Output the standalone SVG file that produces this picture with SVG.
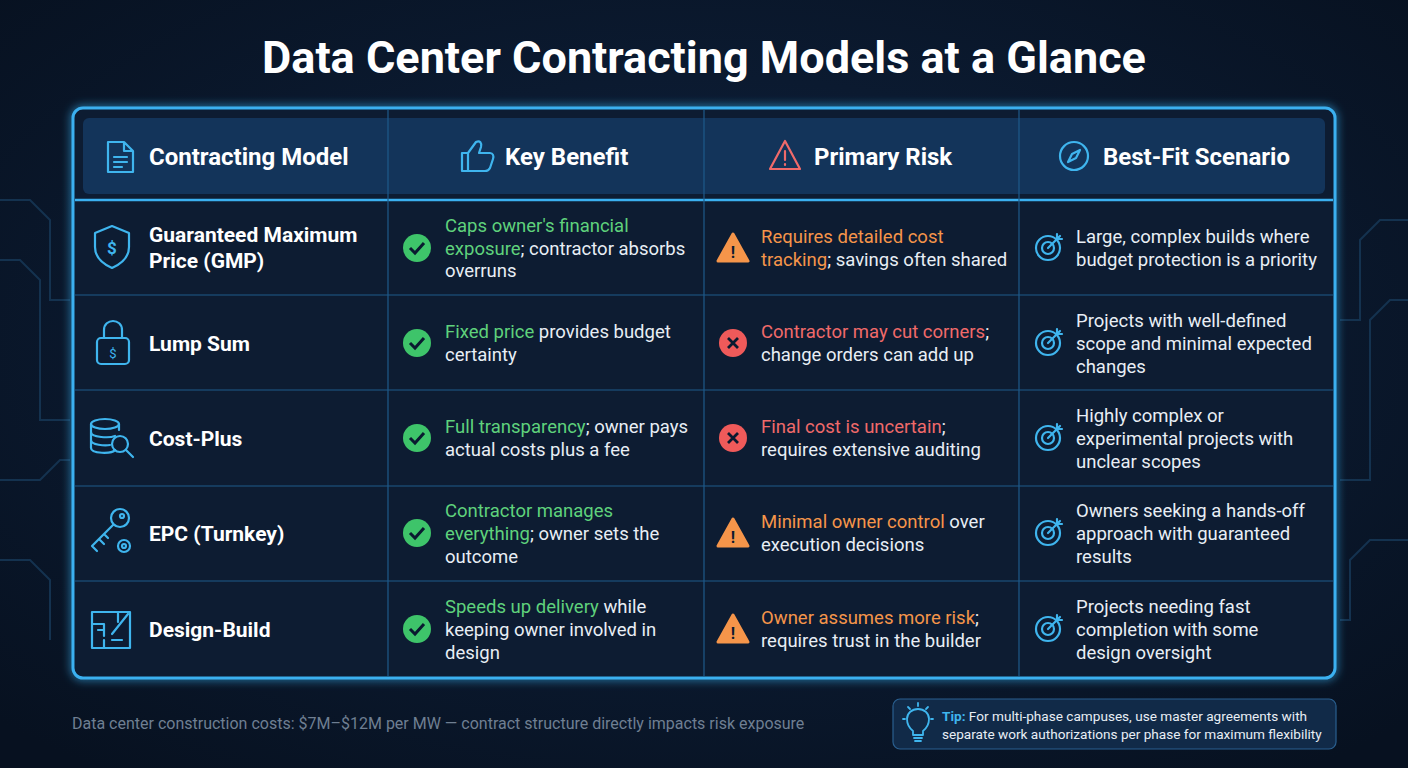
<svg xmlns="http://www.w3.org/2000/svg" width="1408" height="768" viewBox="0 0 1408 768">
<defs>
<radialGradient id="bg" cx="50%" cy="45%" r="70%"><stop offset="0" stop-color="#0f2340"/><stop offset="1" stop-color="#071120"/></radialGradient>
<filter id="glow" x="-5%" y="-5%" width="110%" height="110%"><feGaussianBlur stdDeviation="5" result="b"/><feMerge><feMergeNode in="b"/><feMergeNode in="SourceGraphic"/></feMerge></filter>
<style>
text{font-family:Roboto,"Liberation Sans",sans-serif}
.h{font-size:24px;font-weight:700;fill:#fff}
.m{font-size:21px;font-weight:700;fill:#fff}
.t{font-size:18.5px;fill:#e8eef5}
.g{fill:#5fd27c}.o{fill:#f5954a}.r{fill:#f06a6a}
.ic{fill:none;stroke:#3fb5ee;stroke-width:2.2;stroke-linecap:round;stroke-linejoin:round}
.grid{stroke:#1e5a8a;stroke-width:1.2}
.trace{fill:none;stroke:#14324f;stroke-width:2}
</style>
</defs>
<rect width="1408" height="768" fill="url(#bg)"/>
<g class="trace">
<path d="M0 200 H30 L50 220 V300 H70"/><path d="M0 260 H20 L40 280 V420 H70"/><path d="M0 480 H40 L60 460 H70"/><path d="M0 560 H30 L50 580 V640"/>
<path d="M1408 220 H1380 L1360 240 V320 H1340"/><path d="M1408 300 H1390 L1370 320 V480 H1340"/><path d="M1408 540 H1370 L1350 560 V620 H1340"/>
</g>
<text x="704" y="73" text-anchor="middle" style="font-size:45px;font-weight:700;fill:#fff">Data Center Contracting Models at a Glance</text>
<rect x="73" y="108" width="1262" height="570" rx="10" fill="#0a1a30" stroke="#3bb0f0" stroke-width="3" filter="url(#glow)"/>
<rect x="83" y="118" width="1242" height="76" rx="6" fill="#13345a"/>
<g class="grid">
<line x1="75" y1="200" x2="1333" y2="200" stroke="#3bb0f0" stroke-width="2.5"/>
<line x1="75" y1="295" x2="1333" y2="295"/><line x1="75" y1="390" x2="1333" y2="390"/><line x1="75" y1="486" x2="1333" y2="486"/><line x1="75" y1="581" x2="1333" y2="581"/>
<line x1="388" y1="110" x2="388" y2="676"/><line x1="704" y1="110" x2="704" y2="676"/><line x1="1019" y1="110" x2="1019" y2="676"/>
</g>
<g id="header">
<g class="ic"><path d="M108 142 H124 L133 151 V172 H108 Z M124 142 V151 H133 M114 157 H127 M114 162 H127 M114 167 H122"/></g>
<text class="h" x="149" y="165">Contracting Model</text>
<g class="ic"><path d="M462 153 H468 V171 H462 Z M468 153 L476 142 C480 140 482 143 481 147 L479 153 H490 C493 153 494 156 493 159 L490 168 C489 170 487 171 485 171 H468"/></g>
<text class="h" x="505" y="165">Key Benefit</text>
<g class="ic" style="stroke:#f06a6a"><path d="M785 141 L800 169 H770 Z M785 151 V160 M785 164 V165"/></g>
<text class="h" x="814" y="165">Primary Risk</text>
<g class="ic"><circle cx="1074" cy="156" r="14"/><path d="M1080 150 L1076 158 L1068 162 L1072 154 Z"/></g>
<text class="h" x="1103" y="165">Best-Fit Scenario</text>
</g>
<g id="row1">
<g class="ic"><path d="M112 226 L129 233 V247 C129 257 121 264 112 268 C103 264 95 257 95 247 V233 Z"/><text x="112" y="254" text-anchor="middle" style="font-size:17px;fill:#3fb5ee;font-weight:700;stroke:none">$</text></g>
<text class="m" x="149" y="242">Guaranteed Maximum</text><text class="m" x="149" y="268">Price (GMP)</text>
<circle cx="417" cy="248" r="14" fill="#3ec46a"/><path d="M410 248 L415 253 L424 243" fill="none" stroke="#0a1a30" stroke-width="3"/>
<text class="t" x="445" y="232"><tspan class="g">Caps owner's financial</tspan></text>
<text class="t" x="445" y="255"><tspan class="g">exposure</tspan>; contractor absorbs</text>
<text class="t" x="445" y="277">overruns</text>
<path d="M733 234 L748 261 H718 Z" fill="#f5954a" stroke="#f5954a" stroke-linejoin="round" stroke-width="3"/><text x="733" y="258" text-anchor="middle" style="font-size:16px;font-weight:700;fill:#0a1a30">!</text>
<text class="t" x="761" y="243"><tspan class="o">Requires detailed cost</tspan></text>
<text class="t" x="761" y="266"><tspan class="o">tracking</tspan>; savings often shared</text>
<g class="ic"><circle cx="1048" cy="248" r="12"/><circle cx="1048" cy="248" r="6"/><path d="M1048 248 L1060 236 M1057 234 V239 H1062"/></g>
<text class="t" x="1076" y="243">Large, complex builds where</text>
<text class="t" x="1076" y="266">budget protection is a priority</text>
</g>
<g id="row2">
<g class="ic"><rect x="97" y="338" width="32" height="26" rx="4"/><path d="M104 338 V330 C104 318 122 318 122 330 V338"/><text x="113" y="358" text-anchor="middle" style="font-size:13px;fill:#3fb5ee;stroke:none">$</text></g>
<text class="m" x="149" y="351">Lump Sum</text>
<circle cx="417" cy="343" r="14" fill="#3ec46a"/><path d="M410 343 L415 348 L424 338" fill="none" stroke="#0a1a30" stroke-width="3"/>
<text class="t" x="445" y="338"><tspan class="g">Fixed price</tspan> provides budget</text>
<text class="t" x="445" y="361">certainty</text>
<circle cx="733" cy="343" r="14" fill="#ef5a5a"/><path d="M728 338 L738 348 M738 338 L728 348" stroke="#0a1a30" stroke-width="2.8"/>
<text class="t" x="761" y="338"><tspan class="r">Contractor may cut corners</tspan>;</text>
<text class="t" x="761" y="361">change orders can add up</text>
<g class="ic"><circle cx="1048" cy="343" r="12"/><circle cx="1048" cy="343" r="6"/><path d="M1048 343 L1060 331 M1057 329 V334 H1062"/></g>
<text class="t" x="1076" y="327">Projects with well-defined</text>
<text class="t" x="1076" y="350">scope and minimal expected</text>
<text class="t" x="1076" y="373">changes</text>
</g>
<g id="row3">
<g class="ic"><ellipse cx="105" cy="424" rx="14" ry="5"/><path d="M91 424 V448 C91 454 112 454 115 450 M91 432 C91 438 110 438 115 436 M91 440 C91 445 105 446 110 445 M119 424 V430"/><circle cx="120" cy="444" r="8"/><path d="M126 450 L133 457"/></g>
<text class="m" x="149" y="446">Cost-Plus</text>
<circle cx="417" cy="438" r="14" fill="#3ec46a"/><path d="M410 438 L415 443 L424 433" fill="none" stroke="#0a1a30" stroke-width="3"/>
<text class="t" x="445" y="433"><tspan class="g">Full transparency</tspan>; owner pays</text>
<text class="t" x="445" y="456">actual costs plus a fee</text>
<circle cx="733" cy="438" r="14" fill="#ef5a5a"/><path d="M728 433 L738 443 M738 433 L728 443" stroke="#0a1a30" stroke-width="2.8"/>
<text class="t" x="761" y="433"><tspan class="r">Final cost is uncertain</tspan>;</text>
<text class="t" x="761" y="456">requires extensive auditing</text>
<g class="ic"><circle cx="1048" cy="438" r="12"/><circle cx="1048" cy="438" r="6"/><path d="M1048 438 L1060 426 M1057 424 V429 H1062"/></g>
<text class="t" x="1076" y="422">Highly complex or</text>
<text class="t" x="1076" y="445">experimental projects with</text>
<text class="t" x="1076" y="468">unclear scopes</text>
</g>
<g id="row4">
<g class="ic"><circle cx="120" cy="518" r="9"/><circle cx="122" cy="516" r="2"/><path d="M113 525 L92 546 L97 551 M99 539 L104 544 M104 534 L108 538"/><circle cx="124" cy="546" r="6"/><circle cx="124" cy="546" r="2"/></g>
<text class="m" x="149" y="541">EPC (Turnkey)</text>
<circle cx="417" cy="533" r="14" fill="#3ec46a"/><path d="M410 533 L415 538 L424 528" fill="none" stroke="#0a1a30" stroke-width="3"/>
<text class="t" x="445" y="517"><tspan class="g">Contractor manages</tspan></text>
<text class="t" x="445" y="540"><tspan class="g">everything</tspan>; owner sets the</text>
<text class="t" x="445" y="563">outcome</text>
<path d="M733 519 L748 546 H718 Z" fill="#f5954a" stroke="#f5954a" stroke-linejoin="round" stroke-width="3"/><text x="733" y="543" text-anchor="middle" style="font-size:16px;font-weight:700;fill:#0a1a30">!</text>
<text class="t" x="761" y="528"><tspan class="o">Minimal owner control</tspan> over</text>
<text class="t" x="761" y="551">execution decisions</text>
<g class="ic"><circle cx="1048" cy="533" r="12"/><circle cx="1048" cy="533" r="6"/><path d="M1048 533 L1060 521 M1057 519 V524 H1062"/></g>
<text class="t" x="1076" y="517">Owners seeking a hands-off</text>
<text class="t" x="1076" y="540">approach with guaranteed</text>
<text class="t" x="1076" y="563">results</text>
</g>
<g id="row5">
<g class="ic"><path d="M92 612 H130 V648 H92 Z M92 624 H104 V636 M118 612 V622 M104 648 V640 M112 634 L128 614"/><path d="M98 630 H104 M112 640 H122"/></g>
<text class="m" x="149" y="637">Design-Build</text>
<circle cx="417" cy="629" r="14" fill="#3ec46a"/><path d="M410 629 L415 634 L424 624" fill="none" stroke="#0a1a30" stroke-width="3"/>
<text class="t" x="445" y="613"><tspan class="g">Speeds up delivery</tspan> while</text>
<text class="t" x="445" y="636">keeping owner involved in</text>
<text class="t" x="445" y="659">design</text>
<path d="M733 615 L748 642 H718 Z" fill="#f5954a" stroke="#f5954a" stroke-linejoin="round" stroke-width="3"/><text x="733" y="639" text-anchor="middle" style="font-size:16px;font-weight:700;fill:#0a1a30">!</text>
<text class="t" x="761" y="624"><tspan class="o">Owner assumes more risk</tspan>;</text>
<text class="t" x="761" y="647">requires trust in the builder</text>
<g class="ic"><circle cx="1048" cy="629" r="12"/><circle cx="1048" cy="629" r="6"/><path d="M1048 629 L1060 617 M1057 615 V620 H1062"/></g>
<text class="t" x="1076" y="613">Projects needing fast</text>
<text class="t" x="1076" y="636">completion with some</text>
<text class="t" x="1076" y="659">design oversight</text>
</g>
<text x="72" y="729" style="font-size:16px;fill:#6f7f92">Data center construction costs: $7M–$12M per MW — contract structure directly impacts risk exposure</text>
<g id="tip">
<rect x="893" y="699" width="443" height="50" rx="7" fill="#112a48" stroke="#2a5f8f" stroke-width="1.2"/>
<g class="ic" style="stroke-width:1.8"><path d="M913 731 C908 727 907 722 907 719 C907 713 912 709 918 709 C924 709 929 713 929 719 C929 722 928 727 923 731 V735 H913 Z M914 738 H922 M915 741 H921 M918 703 V706 M908 707 L910 709 M928 707 L926 709 M903 719 H905 M931 719 H933"/></g>
<text x="942" y="721" style="font-size:13.6px;fill:#e8eef5"><tspan style="fill:#3fb5ee;font-weight:700">Tip:</tspan> For multi-phase campuses, use master agreements with</text>
<text x="942" y="739" style="font-size:13.6px;fill:#e8eef5">separate work authorizations per phase for maximum flexibility</text>
</g>
</svg>
